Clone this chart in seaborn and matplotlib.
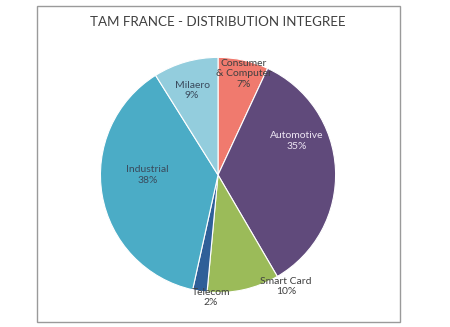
import matplotlib
matplotlib.use("Agg")
import matplotlib.pyplot as plt
import seaborn as sns
from matplotlib.patches import Rectangle

categories = ["Consumer\n& Computer", "Automotive", "Smart Card", "Telecom", "Industrial", "Milaero"]
values = [7, 35, 10, 2, 38, 9]
pct_labels = ["7%", "35%", "10%", "2%", "38%", "9%"]
title = "TAM FRANCE - DISTRIBUTION INTEGREE"

colors = ["#F07A6E", "#604A7B", "#9BBB59", "#2F5F98", "#4BACC6", "#93CDDD"]
text_colors = ["#404040", "#EDE6F3", "#404040", "#404040", "#3A4A5C", "#3A4A5C"]
# label anchor positions (in units of pie radius)
label_pos = [(0.22, 0.86), (0.67, 0.29), (0.58, -0.95), (-0.06, -1.04), (-0.60, 0.0), (-0.22, 0.72)]

sns.set_theme(style="white")
plt.rcParams["font.family"] = ["Lato", "DejaVu Sans"]

fig = plt.figure(figsize=(4.5, 3.27), dpi=100)
fig.patch.set_facecolor("white")

# frame
fig.patches.append(Rectangle((0.082, 0.015), 0.807, 0.967, transform=fig.transFigure,
                             fill=False, edgecolor="#9A9A9A", linewidth=1.0))

ax = fig.add_axes([0.218, 0.098, 0.533, 0.734])
wedges, _ = ax.pie(values, colors=colors, startangle=90, counterclock=False,
                   radius=1.0, wedgeprops=dict(edgecolor="white", linewidth=0.8))
ax.set_xlim(-1.02, 1.02)
ax.set_ylim(-1.02, 1.02)
ax.set_aspect("equal")
ax.axis("off")

for cat, pct, (x, y), tc in zip(categories, pct_labels, label_pos, text_colors):
    ax.text(x, y, f"{cat}\n{pct}", ha="center", va="center", fontsize=7.5,
            color=tc, linespacing=1.2)

fig.text(0.484, 0.932, title, ha="center", va="center", fontsize=9.6, color="#404040")

fig.savefig("out.png", dpi=100)
